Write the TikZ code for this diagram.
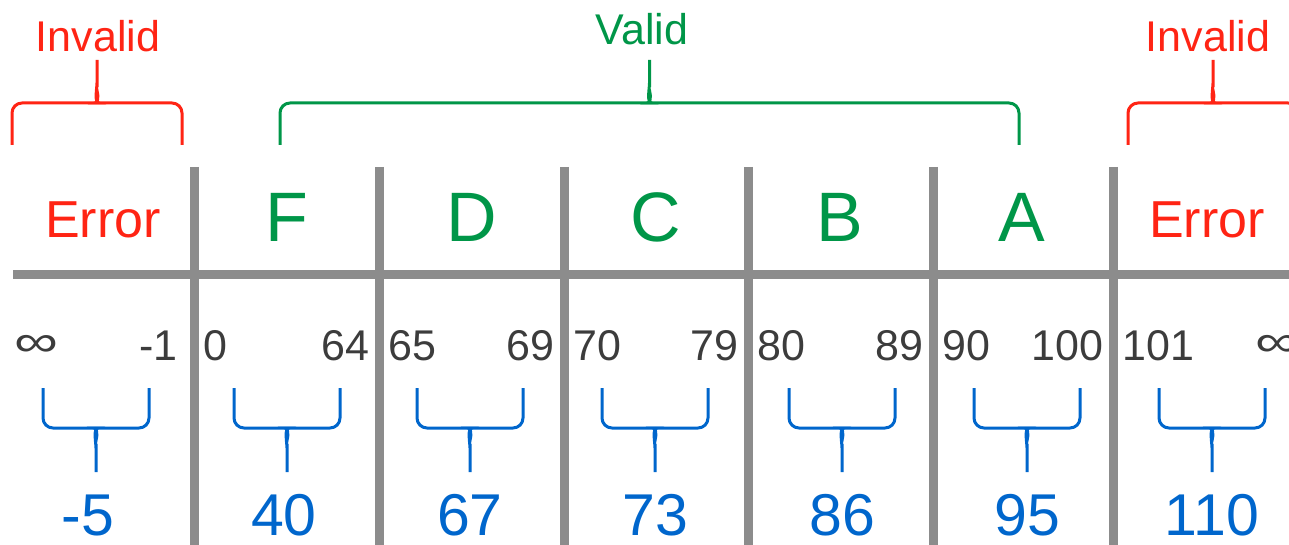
\documentclass[tikz,border=0pt]{standalone}
\usepackage{fontspec}
\setmainfont{Liberation Sans}
\usetikzlibrary{positioning}
\definecolor{ErrRed}{RGB}{255,36,20}
\definecolor{OkGreen}{RGB}{0,150,72}
\definecolor{ValBlue}{RGB}{0,102,204}
\definecolor{GridGray}{RGB}{140,140,140}
\definecolor{NumGray}{RGB}{60,60,60}

\tikzset{
  grid line/.style={GridGray, line width=4.5pt},
  brace line/.style={line width=1.5pt, rounded corners=5pt},
  grade/.style={OkGreen, font=\fontsize{35}{40}\selectfont, anchor=base, inner sep=0pt},
  errtext/.style={ErrRed, font=\fontsize{26}{30}\selectfont, anchor=base, inner sep=0pt},
  toplabel/.style={font=\fontsize{21.5}{25}\selectfont, anchor=base, inner sep=0pt},
  bound/.style={NumGray, font=\fontsize{21.5}{25}\selectfont, inner sep=0pt},
  inf/.style={NumGray, font=\fontsize{22}{25}\selectfont, xscale=1.4, inner sep=0pt},
  value/.style={ValBlue, font=\fontsize{29.5}{33}\selectfont, anchor=base, inner sep=0pt},
}

% bracket over a group, tip pointing up: colour, left x, right x
% (y runs downwards, so in=90 comes in from below)
\newcommand{\upbrace}[3]{%
  \pgfmathsetmacro{\bmid}{(#2+#3)/2}%
  \draw[brace line, #1] (#2,145) -- (#2,103) -- (\bmid-8,103)
    to[out=0,in=90] (\bmid,93) -- (\bmid,60);
  \draw[brace line, #1] (#3,145) -- (#3,103) -- (\bmid+8,103)
    to[out=180,in=90] (\bmid,93);
}
% bracket under a range, tip pointing down: centre x
\newcommand{\downbrace}[1]{%
  \draw[brace line, ValBlue] (#1-53,388) -- (#1-53,428) -- (#1-8,428)
    to[out=0,in=-90] (#1,438) -- (#1,472);
  \draw[brace line, ValBlue] (#1+53,388) -- (#1+53,428) -- (#1+8,428)
    to[out=180,in=-90] (#1,438);
}

\begin{document}
\begin{tikzpicture}[x=0.5pt, y=-0.5pt]
    \useasboundingbox (0,0) rectangle (1289,545);
    \clip (0,0) rectangle (1289,545);

    % grid
    \draw[grid line] (13,274) -- (1300,274);
    \foreach \x in {194,379,564,748,933,1113}
        \draw[grid line] (\x,167) -- (\x,560);

    % groups on top
    \node[toplabel, ErrRed]  (invL)  at (98,52)   {Invalid};
    \node[toplabel, OkGreen] (valid) at (642,45)  {Valid};
    \node[toplabel, ErrRed]  (invR)  at (1208,52) {Invalid};
    \upbrace{ErrRed}{12}{182}
    \upbrace{OkGreen}{280}{1019}
    \upbrace{ErrRed}{1128}{1298}

    % grades
    \node[errtext] (errL) at (103,237) {Error};
    \foreach \x/\g in {287/F, 472/D, 656/C, 840/B, 1022/A}
        \node[grade] (grade\g) at (\x,242) {\g};
    \node[errtext] (errR) at (1207,237) {Error};

    % range bounds
    \node[inf, anchor=west] (lowL) at (14,346)  {∞};
    \node[bound, anchor=base east] (upL)  at (178,360) {-1};
    \foreach \l/\r/\lo/\hi [count=\i] in {194/379/0/64, 379/564/65/69, 564/748/70/79, 748/933/80/89, 933/1113/90/100} {
        \node[bound, anchor=base west] (low\i) at (\l+9,360)  {\lo};
        \node[bound, anchor=base east] (up\i)  at (\r-9,360) {\hi};
    }
    \node[bound, anchor=base west] (lowR) at (1122,360) {101};
    \node[inf, anchor=west] (upR)  at (1255,346) {∞};

    % test values
    \foreach \bx/\tx/\v [count=\i] in {96/88/-5, 287/284/40, 470/470/67, 655/655/73, 842/842/86, 1027/1027/95, 1212/1212/110} {
        \downbrace{\bx}
        \node[value] (val\i) at (\tx,535) {\v};
    }
\end{tikzpicture}
\end{document}
